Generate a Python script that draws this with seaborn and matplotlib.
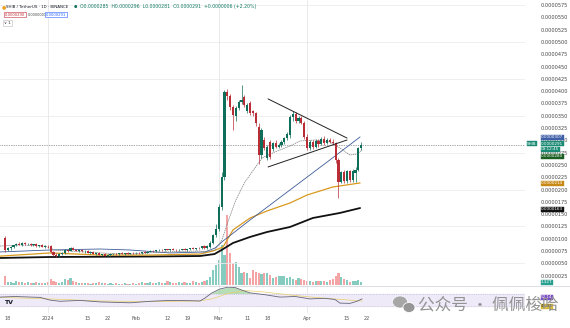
import numpy as np
import pandas as pd
import matplotlib
matplotlib.use("Agg")
import matplotlib.pyplot as plt
from matplotlib.patches import Ellipse
from matplotlib.lines import Line2D
import seaborn as sns

# ---------------- data (price in units of 2.5e-7 USDT) ----------------
start_date = "2023-12-17"
opens = [40.7, 31.0, 32.2, 33.4, 34.6, 35.9, 35.2, 36.4, 35.6, 36.0,
         34.9, 35.4, 34.2, 34.8, 33.6, 34.1, 33.8, 29.3, 27.2, 26.0,
         27.6, 28.7, 31.0, 30.2, 32.6, 31.1, 30.4, 30.9, 29.8, 30.2,
         28.8, 29.4, 28.0, 28.6, 27.0, 27.7, 26.3, 27.0, 27.5, 28.0,
         27.4, 28.1, 27.8, 28.3, 27.9, 28.5, 28.2, 28.7, 28.4, 29.0,
         28.8, 29.6, 30.2, 29.8, 30.5, 31.0, 30.6, 31.3, 30.9, 31.5,
         31.0, 30.5, 31.2, 31.6, 31.1, 31.5, 32.2, 31.8, 32.5, 32.2,
         33.8, 32.5, 33.5, 36.6, 43.0, 48.0, 66.0, 90.0, 159.3, 156.0,
         147.5, 140.0, 146.3, 151.0, 155.0, 143.5, 150.0, 143.5, 142.3, 131.0,
         108.0, 120.3, 105.7, 118.7, 113.0, 117.5, 115.0, 116.3, 118.5, 122.0,
         124.0, 139.0, 141.5, 136.0, 138.5, 134.5, 123.0, 113.8, 118.7, 114.6,
         119.5, 117.0, 121.5, 118.0, 120.5, 119.0, 117.9, 104.1, 86.2, 94.3,
         87.0, 94.8, 88.0, 93.5, 96.0, 113.8]
highs = [42.5, 33.0, 34.0, 35.2, 36.4, 37.4, 37.0, 37.6, 36.8, 36.9,
         36.0, 36.2, 35.3, 35.6, 34.8, 35.0, 34.6, 30.2, 28.4, 28.2,
         29.0, 31.6, 32.0, 33.6, 33.6, 32.1, 31.5, 31.6, 30.8, 30.7,
         30.0, 30.0, 29.0, 29.1, 28.0, 28.2, 27.5, 28.0, 28.5, 28.6,
         28.4, 28.9, 28.5, 29.0, 28.8, 29.2, 29.0, 29.4, 29.2, 29.8,
         30.0, 30.5, 31.0, 30.8, 31.5, 31.8, 31.6, 32.0, 31.8, 32.2,
         31.8, 31.5, 32.0, 32.4, 31.9, 32.6, 33.0, 32.8, 33.5, 34.5,
         35.0, 35.0, 38.0, 44.0, 52.0, 68.0, 94.0, 161.0, 161.5, 158.0,
         149.0, 148.0, 153.0, 165.0, 157.0, 150.0, 152.0, 145.0, 143.0, 134.0,
         130.0, 123.0, 116.0, 120.0, 119.0, 120.5, 118.0, 120.0, 123.0, 126.5,
         141.0, 143.5, 143.0, 140.0, 140.0, 136.0, 125.0, 120.0, 120.0, 121.0,
         121.0, 123.0, 123.5, 122.0, 122.0, 121.0, 119.0, 106.0, 95.5, 96.0,
         96.0, 96.0, 97.0, 98.0, 115.0, 118.5]
lows = [29.5, 29.8, 31.2, 32.5, 33.8, 34.6, 34.2, 35.0, 34.6, 34.4,
        33.8, 33.6, 33.1, 33.2, 32.6, 32.9, 28.5, 26.4, 25.3, 25.1,
        26.6, 28.0, 29.4, 29.8, 30.5, 29.8, 29.5, 29.3, 28.8, 28.4,
        28.0, 27.5, 27.2, 26.5, 26.0, 25.8, 25.5, 26.2, 26.6, 27.0,
        26.8, 27.5, 27.0, 27.6, 27.3, 27.8, 27.6, 28.0, 27.8, 28.4,
        28.2, 29.0, 29.4, 29.2, 29.8, 30.2, 30.0, 30.5, 30.2, 30.8,
        30.0, 29.8, 30.5, 30.9, 30.4, 31.0, 31.4, 31.2, 31.8, 31.8,
        32.0, 32.0, 32.5, 35.5, 41.5, 46.0, 63.0, 88.0, 153.0, 145.0,
        128.5, 136.0, 145.0, 149.5, 147.0, 142.0, 141.0, 140.0, 132.0, 101.0,
        106.0, 112.0, 104.0, 105.0, 111.0, 113.5, 113.5, 115.0, 117.0, 120.5,
        122.0, 136.0, 134.0, 134.5, 133.0, 121.5, 112.0, 112.5, 113.0, 113.5,
        115.0, 116.0, 116.5, 117.0, 117.5, 116.5, 102.0, 73.2, 85.0, 85.5,
        85.5, 86.5, 86.5, 86.0, 95.0, 112.5]
closes = [31.0, 32.2, 33.4, 34.6, 35.9, 35.2, 36.4, 35.6, 36.0, 34.9,
          35.4, 34.2, 34.8, 33.6, 34.1, 33.8, 29.3, 27.2, 26.0, 27.6,
          28.7, 31.0, 30.2, 32.6, 31.1, 30.4, 30.9, 29.8, 30.2, 28.8,
          29.4, 28.0, 28.6, 27.0, 27.7, 26.3, 27.0, 27.5, 28.0, 27.4,
          28.1, 27.8, 28.3, 27.9, 28.5, 28.2, 28.7, 28.4, 29.0, 28.8,
          29.6, 30.2, 29.8, 30.5, 31.0, 30.6, 31.3, 30.9, 31.5, 31.0,
          30.5, 31.2, 31.6, 31.1, 31.5, 32.2, 31.8, 32.5, 32.2, 33.8,
          32.5, 34.0, 36.6, 43.0, 48.0, 66.0, 90.0, 159.3, 156.0, 147.5,
          141.0, 146.3, 151.0, 153.0, 149.0, 148.5, 142.5, 142.3, 134.1, 108.0,
          128.5, 113.8, 114.6, 106.5, 117.5, 115.0, 116.3, 118.5, 122.0, 125.0,
          139.0, 141.5, 136.0, 138.5, 134.5, 123.0, 113.8, 118.7, 114.6, 119.5,
          117.0, 121.5, 118.0, 120.5, 119.0, 117.9, 104.1, 86.2, 94.3, 87.0,
          94.8, 88.0, 95.5, 96.0, 113.8, 116.3]
volumes = [9, 3, 3, 2, 4, 3, 3, 2, 3, 2,
           2, 3, 2, 2, 2, 3, 6, 4, 3, 2,
           3, 6, 5, 7, 4, 3, 2, 2, 2, 2,
           1.5, 2, 2, 3, 2, 2, 1.5, 2, 1.5, 2,
           1.5, 1, 2, 1.5, 1.5, 2, 1.5, 2, 3, 2,
           2, 3, 2, 2.5, 3, 2, 2, 4, 3, 2,
           2, 3, 2, 3, 2, 2, 4, 3, 2, 3,
           4, 5, 8, 15, 20, 25, 40, 30, 70, 32,
           22, 23, 18, 12, 13, 12, 7, 15, 13, 12,
           11, 12, 12, 10, 7, 8, 9, 9, 9, 7,
           8, 6, 5, 7, 6, 5, 4, 4, 3, 4,
           4, 4, 4, 3, 5, 6, 9, 12, 8, 6,
           5, 3, 4, 4, 5, 3]

# moving averages (bar index, price)
ma_black_x = [-1.75, 15.8, 50.9, 68.4, 73.5, 76, 80, 86, 91.9, 100, 108, 117.5, 124.6]
ma_black_y = [24.4, 25.2, 25.6, 26.0, 27.6, 30.9, 36.6, 41.5, 45.5, 49.6, 56.9, 61.0, 65.0]
ma_gold_x = [-1.75, 15.8, 33.3, 50.9, 68.4, 73, 76.5, 80, 86, 91.9, 100, 106, 115, 124.6]
ma_gold_y = [25.9, 28.5, 26.8, 26.8, 27.6, 30.1, 33.3, 47.2, 56.9, 62.6, 69.1, 75.6, 82.1, 85.4]
ma_blue_x = [-1.75, 15.8, 33.3, 43.9, 57.9, 70.2, 73.7, 76.5, 86, 100, 114, 124.6]
ma_blue_y = [29.3, 30.9, 31.7, 30.9, 28.5, 29.3, 32.5, 38.2, 55.3, 79.7, 104.1, 122.8]
ma_gray_x = [-1.75, 5.3, 14, 17.5, 22.8, 33.3, 43.9, 56.1, 68.4, 70.2, 73.7, 76.1, 78.2,
             81, 84.2, 87.7, 90.2, 94.7, 100, 103.5, 108.8, 114, 117.5, 121, 123.5, 125.3]
ma_gray_y = [34.1, 35.0, 34.1, 30.9, 30.1, 28.5, 27.6, 29.3, 30.1, 29.3, 30.9, 39.0, 53.7,
             71.5, 86.2, 97.6, 105.7, 110.6, 115.4, 119.5, 120.3, 118.7, 113.8, 108.1, 108.9, 112.2]
# triangle trend lines
trend_upper_x = [92.3, 120.0]
trend_upper_y = [153.7, 121.9]
trend_lower_x = [92.3, 120.0]
trend_lower_y = [98.4, 120.3]
last_price = 116.3

# RSI panel
rsi_x = [-1.75, 3.5, 12.3, 15.8, 19.3, 26.3, 33.3, 43.9, 50.9, 57.9, 64.9, 68.4, 70.2, 72.6,
         75.4, 78.2, 80.7, 83.5, 86, 91.2, 96.5, 101.8, 107, 112.3, 115.8, 117.5, 121, 123.5, 125.3]
rsi_y = [58, 60, 57, 48, 44, 47, 42, 39, 44, 47, 46, 45, 55, 72,
         85, 91, 90, 80, 72, 66, 58, 60, 52, 54, 50, 38, 37, 44, 52]
rsi_ma_x = [-1.75, 15.8, 33.3, 50.9, 68.4, 72.6, 78.2, 84, 91, 100, 110, 118, 125.3]
rsi_ma_y = [57, 52, 45, 43, 45, 52, 70, 80, 75, 65, 56, 50, 45]

# axis labels
tick_dates = ["2023-12-18", "2024-01-01", "2024-01-15", "2024-01-22", "2024-02-01",
              "2024-02-12", "2024-02-19", "2024-03-01", "2024-03-11", "2024-03-18",
              "2024-04-01", "2024-04-15", "2024-04-22"]
tick_labels = ["18", "2024", "15", "22", "Feb", "12", "19", "Mar", "11", "18", "Apr", "15", "22"]
grid_dates = ["2024-01-01", "2024-03-01", "2024-04-01"]
price_ticks = list(range(10, 231, 10))
PRICE_UNIT = 2.5e-7

# ---------------- figure ----------------
sns.set_theme(style="white")
plt.rcParams["font.family"] = ["DejaVu Sans"]
W, H = 570, 328
fig = plt.figure(figsize=(W / 100, H / 100), dpi=100)
fig.patch.set_facecolor("white")


def rect(x0, y0, x1, y1):
    return [x0 / W, 1 - y1 / H, (x1 - x0) / W, (y1 - y0) / H]


def fx(x):
    return x / W


def fy(y):
    return 1 - y / H


axv = fig.add_axes(rect(0, 0, 525, 286))
ax = fig.add_axes(rect(0, 0, 525, 286))
axr = fig.add_axes(rect(0, 286, 525, 313))
ax.set_facecolor("none")

o = np.array(opens); h = np.array(highs); l = np.array(lows); c = np.array(closes)
v = np.array(volumes)
n = len(o)
idx = np.arange(n)
d0 = pd.Timestamp(start_date)
XL = (-1.754, 182.46)

UP, DN = "#0f6e5a", "#b92d36"
UPV, DNV = "#86cbbf", "#f4a4a4"
is_up = c >= o
col = np.where(is_up, UP, DN)
vcol = np.where(is_up, UPV, DNV)

# volume
axv.bar(idx, v, width=0.75, color=vcol, linewidth=0)
axv.set_xlim(*XL)
axv.set_ylim(-1, 285)
axv.axis("off")

# grid
for g in range(20, 231, 30):
    ax.axhline(g, color="#ececec", lw=0.6, zorder=0)
for gd in grid_dates:
    gx = (pd.Timestamp(gd) - d0).days
    ax.axvline(gx, color="#e6e6e6", lw=0.6, zorder=0)
    axr.axvline(gx, color="#e6e6e6", lw=0.6, zorder=0)

# moving averages
sns.lineplot(x=ma_black_x, y=ma_black_y, ax=ax, color="#111111", lw=1.3, sort=False, estimator=None, zorder=2)
sns.lineplot(x=ma_gold_x, y=ma_gold_y, ax=ax, color="#d99a1e", lw=0.9, sort=False, estimator=None, zorder=2)
sns.lineplot(x=ma_blue_x, y=ma_blue_y, ax=ax, color="#3d5a98", lw=0.6, sort=False, estimator=None, zorder=2)
sns.lineplot(x=ma_gray_x, y=ma_gray_y, ax=ax, color="#777777", lw=0.5, sort=False, estimator=None,
             zorder=2, linestyle=(0, (2, 1)))

# candles
ax.vlines(idx, l, h, colors=col, lw=0.5, zorder=3)
body = np.maximum(np.abs(c - o), 0.4)
ax.bar(idx, body, bottom=np.minimum(o, c), width=0.75, color=col, linewidth=0, zorder=4)

# trend lines and last price line
sns.lineplot(x=trend_upper_x, y=trend_upper_y, ax=ax, color="#222222", lw=0.7, estimator=None, zorder=5)
sns.lineplot(x=trend_lower_x, y=trend_lower_y, ax=ax, color="#222222", lw=0.7, estimator=None, zorder=5)
ax.axhline(last_price, color="#555555", lw=0.5, linestyle=(0, (1, 1.5)), zorder=1)

ax.set_xlim(*XL)
ax.set_ylim(1.63, 234.1)
ax.set_xticks([])
ax.yaxis.tick_right()
ax.set_yticks(price_ticks)
ax.set_yticklabels([f"{t * PRICE_UNIT:.7f}" for t in price_ticks])
ax.tick_params(axis="y", length=0, pad=11, labelsize=3.6, labelcolor="#444444")
ax.set_xlabel(""); ax.set_ylabel("")
for s in ax.spines.values():
    s.set_visible(False)

# RSI panel
axr.set_facecolor("none")
axr.axhspan(30, 70, color="#efeaf8", zorder=0)
axr.axhline(70, color="#b4b0c8", lw=0.4, ls=(0, (2, 2)))
axr.axhline(30, color="#b4b0c8", lw=0.4, ls=(0, (1, 1.5)))
rx = np.array(rsi_x); ry = np.array(rsi_y)
axr.fill_between(rx, 70, ry, where=ry > 70, interpolate=True, color="#7cc47f", alpha=0.55, lw=0)
sns.lineplot(x=rsi_ma_x, y=rsi_ma_y, ax=axr, color="#e8cf6a", lw=0.5, estimator=None)
sns.lineplot(x=rsi_x, y=rsi_y, ax=axr, color="#66667a", lw=0.6, estimator=None)
axr.set_xlim(*XL)
axr.set_ylim(5, 95)
tpos = [(pd.Timestamp(t) - d0).days for t in tick_dates]
axr.set_xticks(tpos)
axr.set_xticklabels(tick_labels)
axr.set_yticks([])
axr.tick_params(axis="x", length=0, pad=2, labelsize=3.6, labelcolor="#555555")
axr.set_xlabel(""); axr.set_ylabel("")
for s in axr.spines.values():
    s.set_visible(False)

# pane separator
fig.add_artist(Line2D([0, 1], [fy(285.5), fy(285.5)], transform=fig.transFigure, color="#d6d8de", lw=0.6))

# header
fig.text(fx(1.5), fy(6.5), "●", color="#f0a020", fontsize=3.6, va="center")
fig.text(fx(6.5), fy(6.5), "SHIB / TetherUS · 1D · BINANCE", color="#131722", fontsize=2.9, va="center")
fig.text(fx(73.5), fy(6.5), "●", color="#0f6e5a", fontsize=2.8, va="center")
fig.text(fx(80), fy(6.5),
         "O0.0000285  H0.0000296  L0.0000281  C0.0000291  +0.0000006 (+2.20%)",
         color="#127a64", fontsize=3.3, va="center")
fig.text(fx(4.5), fy(14.5), "0.0000290", color="#c2303a", fontsize=2.7, va="center",
         bbox=dict(boxstyle="square,pad=0.25", fc="white", ec="#c2303a", lw=0.4))
fig.text(fx(27.5), fy(14.5), "0.0000001", color="#444444", fontsize=2.5, va="center")
fig.text(fx(46), fy(14.5), "0.0000291", color="#2962ff", fontsize=2.7, va="center",
         bbox=dict(boxstyle="square,pad=0.25", fc="white", ec="#2962ff", lw=0.4))
fig.text(fx(4), fy(23), "∨ 1", color="#333333", fontsize=3.0, va="center",
         bbox=dict(boxstyle="square,pad=0.3", fc="white", ec="#bbbbbb", lw=0.4))

# right-side value tags
def tag(xp, yp, text, fc, tc="white"):
    fig.text(fx(xp), fy(yp), text, color=tc, fontsize=3.0, va="center", ha="left",
             bbox=dict(boxstyle="square,pad=0.12", fc=fc, ec=fc, lw=0.3))

tag(541, 137.5, "0.0000307", "#3f5fa8")
tag(527, 144, "SHIB", "#1a8a74")
tag(541, 144, "0.0000291", "#1a8a74")
tag(541, 149.5, "09:12:45", "#1a8a74")
tag(541, 156, "0.0000280", "#1b5e20")
tag(541, 183, "0.0000214", "#c88a16")
tag(541, 209, "0.0000163", "#111111")
tag(541, 282, "1.32T", "#2aa090")
tag(541, 297, "52.14", "#7b4fc0")
tag(541, 306, "45.03", "#d6b93a", tc="#333333")

# TradingView logo
fig.text(fx(4), fy(303), "TV", color="#131722", fontsize=4.5, weight="bold", va="center")

# watermark (drawn over the chart like in the screenshot)
fig.add_artist(Ellipse((fx(400), fy(302)), 15 / W, 12 / H, transform=fig.transFigure,
                       fc="#a0a0a0", ec="white", lw=0.5, alpha=0.9))
fig.add_artist(Ellipse((fx(409), fy(307.5)), 12 / W, 10 / H, transform=fig.transFigure,
                       fc="#929292", ec="white", lw=0.6, alpha=0.95))
fig.text(fx(418), fy(305), "公众号 · 佩佩梭哈", color="#939393", fontsize=12, va="center",
         family=["Noto Sans CJK SC", "DejaVu Sans"])

fig.savefig("out.png", dpi=100, facecolor="white")
